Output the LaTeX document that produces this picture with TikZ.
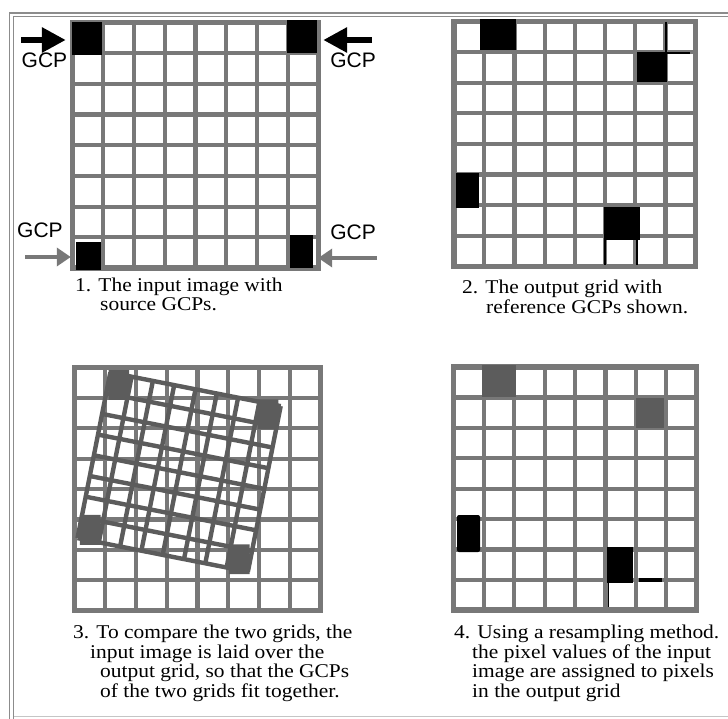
\documentclass[tikz,border=0pt]{standalone}
\usepackage{fontspec}
\setmainfont{Liberation Serif}
\newfontfamily\gcpfont{Liberation Sans}
\newfontfamily\capfamily[FakeStretch=1.1]{Liberation Serif}
\usetikzlibrary{positioning,arrows.meta}
\definecolor{gridgray}{RGB}{120,120,120}
\definecolor{gcpgray}{RGB}{92,92,92}
\definecolor{framegray}{RGB}{140,140,140}
\newcommand\capfont{\capfamily\fontsize{19.5}{19.5}\selectfont\lineskiplimit=-20pt\relax}
\begin{document}
\begin{tikzpicture}[
  x=1pt, y=-1pt,
  gridline/.style={draw=gridgray, line width=4.2pt},
  gridborder/.style={draw=gridgray, line width=5.5pt},
  overlayline/.style={draw=gcpgray, line width=4.4pt},
  gcp/.style={fill=black, inner sep=0pt},
  gcpshade/.style={fill=gcpgray, inner sep=0pt},
  gcplabel/.style={font=\gcpfont\fontsize{21}{21}\selectfont, inner sep=0pt},
  caption/.style={font=\capfont, align=left, anchor=base west, inner sep=0pt},
  bigarrow/.style={line width=6pt, -{Triangle[length=24pt,width=24pt]}, shorten >=6pt},
  smallarrow/.style={draw=gridgray, line width=4pt, -{Triangle[length=14pt,width=18pt]}, shorten >=5pt},
  frameline/.style={draw=framegray, line width=1.5pt}
]
  \useasboundingbox (0,0) rectangle (728,719);

  % outer frame
  \draw[frameline] (728,13) -- (9.5,13) -- (9.5,719);
  \draw[frameline] (728,16.5) -- (13.5,16.5) -- (13.5,719);
  \draw[draw=framegray!50, line width=1pt] (14,716) -- (728,716);

  % the four 8x8 grids
  \foreach \gx/\gy/\cw/\ch in {72.5/22.5/30.75/30.7, 454/21.5/30.2/30.6,
                               74.5/367.5/30.75/30.4, 453.5/367/30.4/30.4} {
    \begin{scope}[shift={(\gx,\gy)}, x=\cw pt, y=-\ch pt]
      \foreach \k in {1,...,7} {
        \draw[gridline] (\k,0) -- (\k,8);
        \draw[gridline] (0,\k) -- (8,\k);
      }
      \draw[gridborder] (0,0) rectangle (8,8);
    \end{scope}
  }

  % 1. input image with source GCPs
  \node[gcp, minimum width=30pt, minimum height=33pt] (gcpTL) at (87,38.5) {};
  \node[gcp, minimum width=30pt, minimum height=33pt] (gcpTR) at (302,36.5) {};
  \node[gcp, minimum width=25pt, minimum height=28pt] (gcpBL) at (88.5,256.5) {};
  \node[gcp, minimum width=23pt, minimum height=33pt] (gcpBR) at (301.5,251.5) {};

  \node[gcplabel] (lblTL) at (44.5,60) {GCP};
  \node[gcplabel] (lblTR) at (353,60) {GCP};
  \node[gcplabel] (lblBL) at (40,230) {GCP};
  \node[gcplabel] (lblBR) at (353,232) {GCP};

  \coordinate (tailTL) at (21,40);
  \coordinate (tailTR) at (372,40);
  \coordinate (tailBL) at (25,257);
  \coordinate (tailBR) at (377,258);
  \draw[bigarrow] (tailTL) -- (tailTL -| gcpTL.west);
  \draw[bigarrow] (tailTR) -- (tailTR -| gcpTR.east);
  \draw[smallarrow] (tailBL) -- (tailBL -| gcpBL.west);
  \draw[smallarrow] (tailBR) -- (tailBR -| gcpBR.east);

  \node[caption] (cap1) at (75,311) {1. The input image with\\\hspace*{25pt}source GCPs.};

  % 2. output grid with reference GCPs
  \node[gcp, minimum width=36pt, minimum height=31pt] (refA) at (498,35) {};
  \node[gcp, minimum width=30pt, minimum height=30pt] (refB) at (651.5,67.5) {};
  \node[gcp, minimum width=23pt, minimum height=35pt] (refC) at (467.5,190.5) {};
  \node[gcp, minimum width=36pt, minimum height=33pt] (refD) at (622,223.5) {};
  \draw[line width=2.5pt] (666,22) -- (666,53) -- (690,53);
  \draw[line width=2.5pt] (605,240) -- (605,265);
  \draw[line width=2.5pt] (637,240) -- (637,265);

  \node[caption] (cap2) at (462,313) {2. The output grid with\\\hspace*{24pt}reference GCPs shown.};

  % 3. input grid laid over the output grid
  \begin{scope}[shift={(110.3,372.5)}, x={(21.3pt,-4.2pt)}, y={(-4.1pt,-20.7pt)}]
    \foreach \k in {0,...,8} {
      \draw[overlayline] (\k,0) -- (\k,8);
      \draw[overlayline] (0,\k) -- (8,\k);
    }
    \fill[gcpgray] (-0.1,-0.1) rectangle (1.1,1.1) (6.9,-0.1) rectangle (8.1,1.1)
                   (-0.1,6.9) rectangle (1.1,8.1) (6.9,6.9) rectangle (8.1,8.1);
  \end{scope}

  \node[caption] (cap3) at (73,697) {3. To compare the two grids, the\\\hspace*{17pt}input image is laid over the\\\hspace*{27pt}output grid, so that the GCPs\\\hspace*{27pt}of the two grids fit together.};

  % 4. resampled output grid
  \node[gcpshade, minimum width=34pt, minimum height=32pt] (outA) at (499,381) {};
  \node[gcpshade, minimum width=28pt, minimum height=30pt] (outB) at (650,413) {};
  \node[gcp, rounded corners=2pt, minimum width=23pt, minimum height=37pt] (outC) at (468.5,533.5) {};
  \node[gcp, minimum width=26pt, minimum height=36pt] (outD) at (620,565) {};
  \draw[line width=4pt] (639,580) -- (662,580);
  \draw[line width=1pt] (608,583) -- (608,607);

  \node[caption] (cap4) at (454,697) {4. Using a resampling method.\\\hspace*{18pt}the pixel values of the input\\\hspace*{18pt}image are assigned to pixels\\\hspace*{18pt}in the output grid};
\end{tikzpicture}
\end{document}
